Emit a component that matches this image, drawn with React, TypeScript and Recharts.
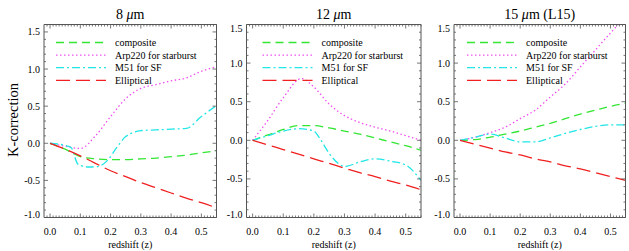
import { LineChart, Line, XAxis, YAxis } from 'recharts';

const W = 629;
const H = 251;
const FONT = '"Liberation Serif", "DejaVu Serif", serif';
const AXIS = '#555555';

// shared redshift grid
const redshift = [0, 0.05, 0.1, 0.15, 0.2, 0.25, 0.3, 0.35, 0.4, 0.45, 0.5, 0.55];

// 8 um
const composite8 = [0, -0.08, -0.18, -0.21, -0.22, -0.22, -0.21, -0.2, -0.18, -0.16, -0.13, -0.1];
const arp220_8 = [0, -0.04, -0.07, 0.1, 0.36, 0.6, 0.74, 0.79, 0.84, 0.88, 0.97, 1.03];
const m51Redshift8 = [0, 0.05, 0.07, 0.09, 0.1, 0.13, 0.16, 0.19, 0.22, 0.25, 0.3, 0.35, 0.4, 0.45, 0.5, 0.55];
const m51_8 = [0, -0.03, -0.06, -0.27, -0.3, -0.32, -0.31, -0.23, -0.06, 0.09, 0.17, 0.18, 0.19, 0.2, 0.36, 0.51];
const elliptical8 = [0, -0.08, -0.17, -0.27, -0.37, -0.45, -0.53, -0.6, -0.67, -0.74, -0.8, -0.87];

// 12 um
const composite12 = [0, 0.07, 0.14, 0.19, 0.19, 0.16, 0.12, 0.08, 0.03, -0.02, -0.07, -0.13];
const arpRedshift12 = [0, 0.05, 0.1, 0.16, 0.2, 0.25, 0.3, 0.35, 0.4, 0.45, 0.5, 0.55];
const arp220_12 = [0, 0.26, 0.55, 0.8, 0.69, 0.47, 0.32, 0.23, 0.17, 0.12, 0.06, 0.0];
const m51Redshift12 = [0, 0.05, 0.1, 0.15, 0.2, 0.22, 0.25, 0.28, 0.3, 0.35, 0.4, 0.45, 0.5, 0.55];
const m51_12 = [0, 0.06, 0.12, 0.15, 0.12, 0.02, -0.17, -0.3, -0.34, -0.28, -0.24, -0.27, -0.32, -0.52];
const elliptical12 = [0, -0.06, -0.12, -0.18, -0.24, -0.3, -0.36, -0.42, -0.47, -0.53, -0.58, -0.64];

// 15 um (L15)
const composite15 = [0, 0.01, 0.04, 0.08, 0.12, 0.17, 0.22, 0.28, 0.34, 0.39, 0.44, 0.48];
const arp220_15 = [0, 0.04, 0.1, 0.17, 0.28, 0.39, 0.56, 0.73, 0.95, 1.17, 1.39, 1.6];
const m51_15 = [0, 0.04, 0.08, 0.03, -0.02, -0.02, 0.03, 0.09, 0.14, 0.18, 0.2, 0.2];
const elliptical15 = [0, -0.05, -0.1, -0.15, -0.19, -0.24, -0.28, -0.33, -0.37, -0.42, -0.47, -0.52];

const titles = ['8', '12', '15'];

const seriesStyle = [
  { name: 'composite', color: '#33e633', dash: '8 5' },
  { name: 'Arp220 for starburst', color: '#f050f0', dash: '1.5 2.5' },
  { name: 'M51 for SF', color: '#22e6e6', dash: '8 3 2 3' },
  { name: 'Elliptical', color: '#f02020', dash: '14 6' },
];

const toPoints = (zs: number[], ks: number[]) => zs.map((z, i) => ({ z, k: ks[i] }));

const panels = [
  {
    left: 44, right: 216.5, yDomain: [-1, 1.6], legendX: 12, suffix: '',
    series: [
      toPoints(redshift, composite8),
      toPoints(redshift, arp220_8),
      toPoints(m51Redshift8, m51_8),
      toPoints(redshift, elliptical8),
    ],
  },
  {
    left: 246.5, right: 421, yDomain: [-1, 1.5], legendX: 16, suffix: '',
    series: [
      toPoints(redshift, composite12),
      toPoints(arpRedshift12, arp220_12),
      toPoints(m51Redshift12, m51_12),
      toPoints(redshift, elliptical12),
    ],
  },
  {
    left: 454, right: 625.5, yDomain: [-1, 1.5], legendX: 13, suffix: ' (L15)',
    series: [
      toPoints(redshift, composite15),
      toPoints(redshift, arp220_15),
      toPoints(redshift, m51_15),
      toPoints(redshift, elliptical15),
    ],
  },
];

const TOP = 24.5;
const BOTTOM = 217.5;
const AX = 1; // axis band size (recharts skips 0-sized axes)
const TICK_FONT = 10;

const xTicks: number[] = [];
for (let i = -1; i <= 55; i++) xTicks.push(i / 100);

function yTicksFor(domain: number[]) {
  const out: number[] = [];
  for (let i = Math.round(domain[0] * 10); i <= Math.round(domain[1] * 10); i++) out.push(i / 10);
  return out;
}

const textStyle = { fontFamily: FONT };

function makeXTick(side: 'top' | 'bottom') {
  return (props: any) => {
    const { x, y, payload } = props;
    const v = payload.value as number;
    const major = Math.abs(v * 10 - Math.round(v * 10)) < 1e-6;
    const len = major ? 4 : 2;
    const d = side === 'bottom' ? -1 : 1;
    return (
      <g>
        <line x1={x} x2={x} y1={y} y2={y + d * len} stroke={AXIS} strokeWidth={0.8} />
        {major && side === 'bottom' && (
          <text x={x} y={y + 17} textAnchor="middle" fontSize={TICK_FONT} style={textStyle} fill="#000">
            {v.toFixed(1)}
          </text>
        )}
      </g>
    );
  };
}

function makeYTick(side: 'left' | 'right', domain: number[]) {
  return (props: any) => {
    const { x, y, payload } = props;
    const v = payload.value as number;
    const major = Math.abs(v * 2 - Math.round(v * 2)) < 1e-6;
    const len = major ? 4 : 2;
    const d = side === 'left' ? 1 : -1;
    let dy = 3.5;
    if (Math.abs(v - domain[1]) < 1e-6) dy += 4;
    if (Math.abs(v - domain[0]) < 1e-6) dy -= 3;
    return (
      <g>
        <line x1={x} x2={x + d * len} y1={y} y2={y} stroke={AXIS} strokeWidth={0.8} />
        {major && side === 'left' && (
          <text x={x - 4} y={y + dy} textAnchor="end" fontSize={TICK_FONT} style={textStyle} fill="#000">
            {v.toFixed(1)}
          </text>
        )}
      </g>
    );
  };
}

function Panel({ p }: { p: (typeof panels)[number] }) {
  const yTicks = yTicksFor(p.yDomain);
  return (
    <div style={{ position: 'absolute', left: 0, top: 0 }}>
      <LineChart
        width={W}
        height={H}
        margin={{ left: p.left - AX, right: W - p.right - AX, top: TOP - AX, bottom: H - BOTTOM - AX }}
      >
        <XAxis
          xAxisId="b" dataKey="z" type="number" domain={[-0.02, 0.55]} allowDataOverflow
          ticks={xTicks} interval={0} height={AX} tickSize={0} tickMargin={0}
          tickLine={false} axisLine={{ stroke: AXIS }} tick={makeXTick('bottom')}
        />
        <XAxis
          xAxisId="t" orientation="top" dataKey="z" type="number" domain={[-0.02, 0.55]} allowDataOverflow
          ticks={xTicks} interval={0} height={AX} tickSize={0} tickMargin={0}
          tickLine={false} axisLine={{ stroke: AXIS }} tick={makeXTick('top')}
        />
        <YAxis
          yAxisId="l" type="number" domain={p.yDomain} allowDataOverflow
          ticks={yTicks} interval={0} width={AX} tickSize={0} tickMargin={0}
          tickLine={false} axisLine={{ stroke: AXIS }} tick={makeYTick('left', p.yDomain)}
        />
        <YAxis
          yAxisId="r" orientation="right" type="number" domain={p.yDomain} allowDataOverflow
          ticks={yTicks} interval={0} width={AX} tickSize={0} tickMargin={0}
          tickLine={false} axisLine={{ stroke: AXIS }} tick={makeYTick('right', p.yDomain)}
        />
        {p.series.map((pts, i) => (
          <Line
            key={i}
            xAxisId="b"
            yAxisId="l"
            data={pts}
            dataKey="k"
            type="monotone"
            stroke={seriesStyle[i].color}
            strokeWidth={1.3}
            strokeDasharray={seriesStyle[i].dash}
            dot={false}
            activeDot={false}
            isAnimationActive={false}
          />
        ))}
      </LineChart>
    </div>
  );
}

export default function App() {
  return (
    <div style={{ position: 'fixed', left: 0, top: 0, width: W, height: H, background: '#fff' }}>
      {panels.map((p, i) => (
        <Panel key={i} p={p} />
      ))}
      <svg width={W} height={H} style={{ position: 'absolute', left: 0, top: 0, pointerEvents: 'none' }}>
        {panels.map((p, i) => {
          const cx = (p.left + p.right) / 2;
          return (
            <g key={i}>
              <text x={cx} y={19} textAnchor="middle" fontSize={14} style={textStyle} fill="#000">
                {titles[i]} <tspan fontStyle="italic">μ</tspan>m{p.suffix}
              </text>
              <text x={cx} y={248} textAnchor="middle" fontSize={10} style={textStyle} fill="#000">
                redshift (z)
              </text>
              {seriesStyle.map((s, j) => {
                const ly = TOP + 18 + j * 12.6;
                const lx = p.left + p.legendX;
                return (
                  <g key={j}>
                    <line
                      x1={lx} x2={lx + 50} y1={ly} y2={ly}
                      stroke={s.color} strokeWidth={1.3} strokeDasharray={s.dash}
                    />
                    <text x={lx + 59} y={ly + 3.5} fontSize={10} style={textStyle} fill="#000">
                      {s.name}
                    </text>
                  </g>
                );
              })}
            </g>
          );
        })}
        <text
          transform="rotate(-90)" x={-120} y={18} textAnchor="middle"
          fontSize={14.5} style={textStyle} fill="#000"
        >
          K-correction
        </text>
      </svg>
    </div>
  );
}
